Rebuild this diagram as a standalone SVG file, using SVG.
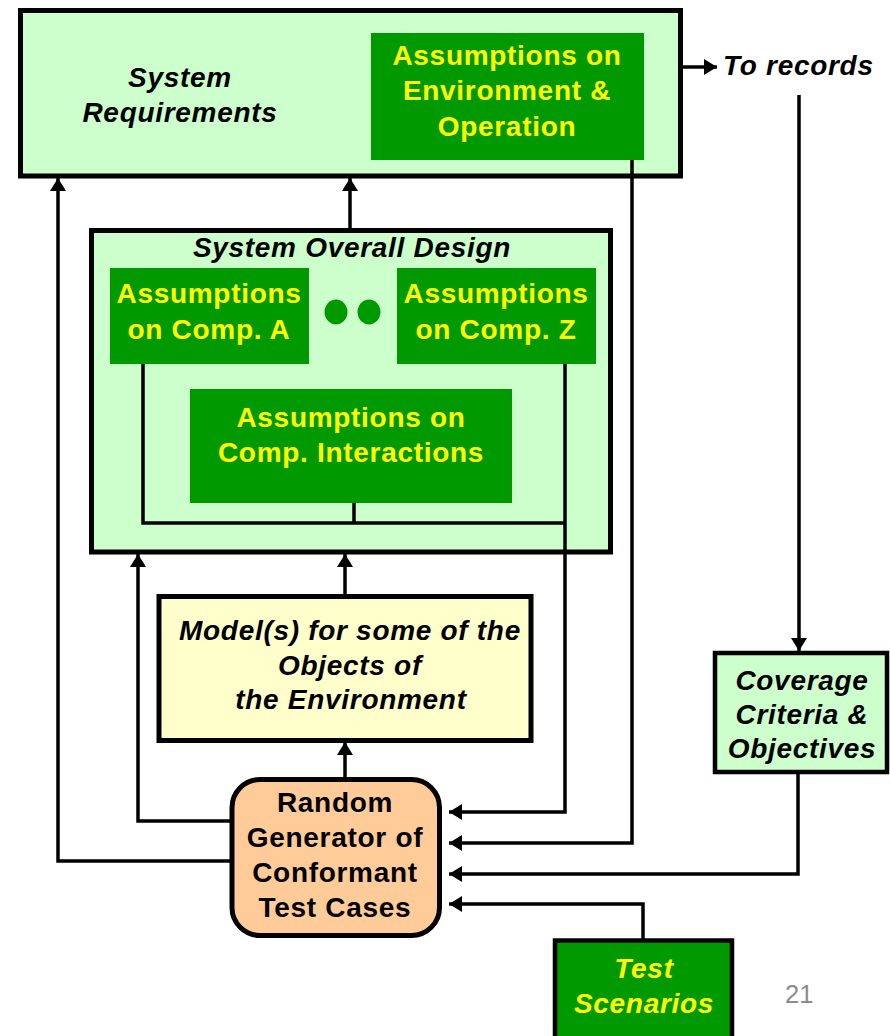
<svg xmlns="http://www.w3.org/2000/svg" width="890" height="1036" viewBox="0 0 890 1036">
  <defs>
    <marker id="arrow" markerUnits="userSpaceOnUse" markerWidth="14" markerHeight="16" refX="13" refY="8" orient="auto">
      <path d="M0,0 L13,8 L0,16 z" fill="#000"/>
    </marker>
    <style>
      .box { stroke: #000; stroke-width: 5; }
      .pale { fill: #CCFFCC; }
      .dark { fill: #009900; }
      .t { font-family: "Liberation Sans", Arial, sans-serif; font-weight: bold; font-size: 28px; letter-spacing: 0.7px; text-anchor: middle; }
      .it { font-style: italic; }
      .blk { fill: #000; }
      .yel { fill: #FFFF00; }
      .wire { fill: none; stroke: #000; stroke-width: 3.5; }
    </style>
  </defs>
  <rect width="890" height="1036" fill="#fff"/>

  <!-- System requirements -->
  <g id="system-requirements">
    <rect class="box pale" x="20.5" y="10.5" width="660" height="165.5"/>
    <text class="t it blk" x="180" y="87">System</text>
    <text class="t it blk" x="180" y="122">Requirements</text>
  </g>
  <g id="assumptions-environment">
    <rect class="dark" x="371" y="33" width="273" height="127"/>
    <text class="t yel" x="507" y="65">Assumptions on</text>
    <text class="t yel" x="507" y="100">Environment &amp;</text>
    <text class="t yel" x="507" y="136">Operation</text>
  </g>
  <g id="to-records">
    <text class="t it blk" x="723" y="75" style="text-anchor:start">To records</text>
  </g>

  <!-- System overall design -->
  <g id="system-overall-design">
    <rect class="box pale" x="91.5" y="230.5" width="519" height="321.5"/>
    <text class="t it blk" x="352" y="257">System Overall Design</text>
  </g>
  <g id="assumptions-comp-a">
    <rect class="dark" x="110" y="268" width="199" height="96"/>
    <text class="t yel" x="209" y="303">Assumptions</text>
    <text class="t yel" x="209" y="339">on Comp. A</text>
  </g>
  <g id="ellipsis-dots">
    <ellipse cx="336" cy="312" rx="11.5" ry="12.5" fill="#009900"/>
    <ellipse cx="369" cy="312" rx="11.5" ry="12.5" fill="#009900"/>
  </g>
  <g id="assumptions-comp-z">
    <rect class="dark" x="397" y="268" width="199" height="96"/>
    <text class="t yel" x="496" y="303">Assumptions</text>
    <text class="t yel" x="496" y="339">on Comp. Z</text>
  </g>
  <g id="assumptions-interactions">
    <rect class="dark" x="190" y="389" width="322" height="114"/>
    <text class="t yel" x="351" y="427">Assumptions on</text>
    <text class="t yel" x="351" y="462">Comp. Interactions</text>
  </g>

  <!-- Environment models -->
  <g id="environment-models">
    <rect class="box" x="159" y="596.5" width="372" height="144" fill="#FFFFCC"/>
    <text class="t it blk" x="350" y="640">Model(s) for some of the</text>
    <text class="t it blk" x="350" y="675">Objects of</text>
    <text class="t it blk" x="351" y="709">the Environment</text>
  </g>

  <!-- Test case generator -->
  <g id="random-generator">
    <rect class="box" x="232" y="779.5" width="207.5" height="156" rx="28" ry="28" fill="#FFCC99"/>
    <text class="t blk" x="335" y="812">Random</text>
    <text class="t blk" x="335" y="847">Generator of</text>
    <text class="t blk" x="335" y="882">Conformant</text>
    <text class="t blk" x="335" y="917">Test Cases</text>
  </g>

  <!-- Coverage -->
  <g id="coverage-criteria">
    <rect class="box pale" x="715" y="653" width="172" height="119" style="stroke-width:4.5"/>
    <text class="t it blk" x="802" y="690">Coverage</text>
    <text class="t it blk" x="802" y="724">Criteria &amp;</text>
    <text class="t it blk" x="802" y="758">Objectives</text>
  </g>

  <!-- Scenarios -->
  <g id="test-scenarios">
    <rect class="box dark" x="555" y="940.5" width="177" height="110" style="stroke-width:4.5"/>
    <text class="t it yel" x="644" y="978">Test</text>
    <text class="t it yel" x="644" y="1013">Scenarios</text>
  </g>

  <g id="page-number">
    <text x="785" y="1003" font-family="Liberation Sans, Arial, sans-serif" font-size="25.5" fill="#8c8c8c">21</text>
  </g>

  <!-- Connectors -->
  <g id="connectors">
    <!-- internal bus of the design assumptions -->
    <path class="wire" d="M143,364 V523 H565"/>
    <path class="wire" d="M354,503 V523"/>
    <path class="wire" d="M565,364 V812 H449" marker-end="url(#arrow)"/>
    <path class="wire" d="M632,160 V843 H449" marker-end="url(#arrow)"/>
    <path class="wire" d="M798,772 V874 H449" marker-end="url(#arrow)"/>
    <path class="wire" d="M643,940 V904 H449" marker-end="url(#arrow)"/>
    <!-- upward flows -->
    <path class="wire" d="M232,861 H58 V178" marker-end="url(#arrow)"/>
    <path class="wire" d="M232,821 H138 V554" marker-end="url(#arrow)"/>
    <path class="wire" d="M345,779 V742" marker-end="url(#arrow)"/>
    <path class="wire" d="M345,596 V554" marker-end="url(#arrow)"/>
    <path class="wire" d="M350,230 V178" marker-end="url(#arrow)"/>
    <!-- records -->
    <path class="wire" d="M683,67 H717" marker-end="url(#arrow)"/>
    <path class="wire" d="M799,95 V651" marker-end="url(#arrow)"/>
  </g>
</svg>
